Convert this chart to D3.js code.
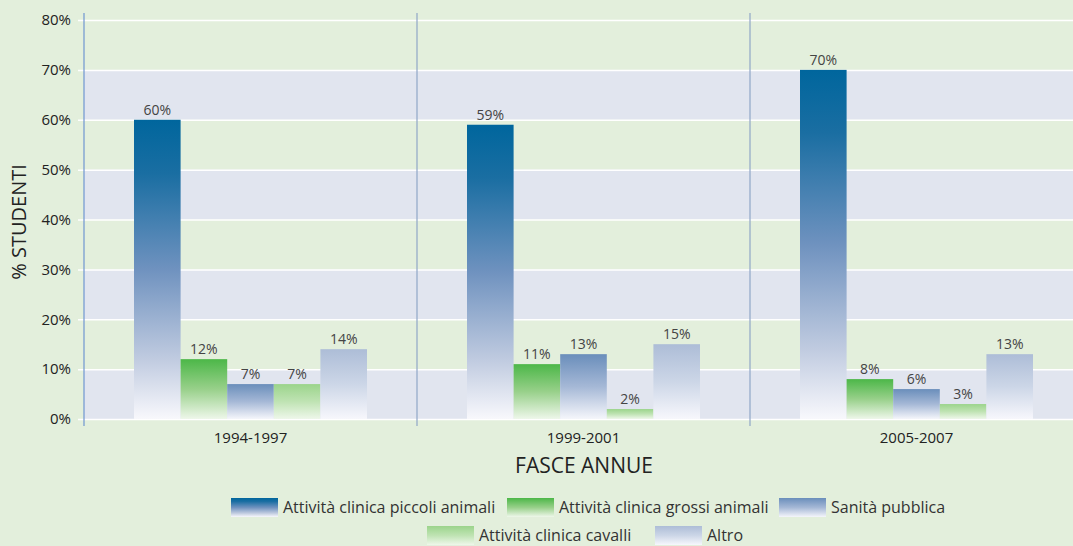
<!DOCTYPE html>
<html><head><meta charset="utf-8">
<script src="https://cdn.jsdelivr.net/npm/d3@7"></script>
<style>html,body{margin:0;padding:0;background:#e3efdc;overflow:hidden}svg{display:block;font-family:"Open Sans",sans-serif}</style>
</head><body><svg id="c" width="1073" height="546"></svg>
<script>
const categories = ["1994-1997", "1999-2001", "2005-2007"];
const seriesNames = ["Attività clinica piccoli animali", "Attività clinica grossi animali", "Sanità pubblica", "Attività clinica cavalli", "Altro"];
const piccoli = [60, 59, 70];
const grossi = [12, 11, 8];
const sanita = [7, 13, 6];
const cavalli = [7, 2, 3];
const altro = [14, 15, 13];
const yTicks = [0, 10, 20, 30, 40, 50, 60, 70, 80];
const seriesValues = [piccoli, grossi, sanita, cavalli, altro];

const gradStops = [
  [["0", "#00669d"], ["0.18", "#1a6ea2"], ["0.5", "#6f92bf"], ["0.8", "#c0cbe0"], ["1", "#f8f8fc"]],
  [["0", "#4cb748"], ["0.5", "#98d08a"], ["1", "#eef7ea"]],
  [["0", "#6a8ebb"], ["0.5", "#a5b8d6"], ["1", "#f5f6fb"]],
  [["0", "#9bd48b"], ["0.5", "#bfe3b3"], ["1", "#eef7ea"]],
  [["0", "#adbdd7"], ["0.5", "#ccd6e7"], ["1", "#f7f7fc"]]
];

const svg = d3.select("#c");
const defs = svg.append("defs");
gradStops.forEach((st, i) => {
  const g = defs.append("linearGradient").attr("id", "g" + i).attr("x1", 0).attr("y1", 0).attr("x2", 0).attr("y2", 1);
  st.forEach(s => g.append("stop").attr("offset", s[0]).attr("stop-color", s[1]));
});

const pL = 84, pR = 1083, pT = 20, pB = 419;
const x0 = d3.scaleBand().domain(categories).range([pL, pR]).padding(0);
const x1 = d3.scaleBand().domain(d3.range(seriesNames.length)).range([50, 283]).padding(0);
const y = d3.scaleLinear().domain([0, 80]).range([pB, pT]);

// bands
for (let i = 0; i < yTicks.length - 1; i++) {
  if (i % 2 === 0) {
    svg.append("rect").attr("x", pL).attr("y", y(yTicks[i + 1])).attr("width", pR - pL)
      .attr("height", y(yTicks[i]) - y(yTicks[i + 1])).attr("fill", "#e1e5ef");
  }
}
// gridlines
svg.append("g").attr("transform", `translate(${pL},0)`)
  .call(d3.axisLeft(y).tickValues(yTicks).tickSize(-(pR - pL)).tickFormat(""))
  .call(g => g.select(".domain").remove())
  .call(g => g.selectAll("line").attr("stroke", "#ffffff").attr("stroke-width", 1.5).attr("x1", -6));
// y labels
svg.append("g").selectAll("text").data(yTicks).join("text")
  .attr("x", 71).attr("y", d => y(d)).attr("dy", "0.35em").attr("text-anchor", "end")
  .attr("font-size", 15).attr("fill", "#222").text(d => d + "%");

// separators
svg.append("line").attr("x1", pL).attr("x2", pL).attr("y1", 13).attr("y2", 426).attr("stroke", "#6f95d0").attr("stroke-width", 1.2);
categories.slice(1).forEach(c => {
  svg.append("line").attr("x1", x0(c)).attr("x2", x0(c)).attr("y1", 13).attr("y2", 426).attr("stroke", "#8fa6c6").attr("stroke-width", 1.2);
});

// bars
categories.forEach((c, ci) => {
  seriesValues.forEach((vals, si) => {
    const v = vals[ci];
    const bx = x0(c) + x1(si);
    svg.append("rect").attr("x", bx).attr("y", y(v)).attr("width", x1.bandwidth()).attr("height", y(0) - y(v))
      .attr("fill", `url(#g${si})`);
    svg.append("text").attr("x", bx + x1.bandwidth() / 2).attr("y", y(v) - 5).attr("text-anchor", "middle")
      .attr("font-size", 14).attr("fill", "#444").text(v + "%");
  });
  svg.append("text").attr("x", x0(c) + x0.bandwidth() / 2).attr("y", 443).attr("text-anchor", "middle")
    .attr("font-size", 15).attr("fill", "#222").text(c);
});

svg.append("text").attr("x", 584).attr("y", 473).attr("text-anchor", "middle").attr("font-size", 21).attr("fill", "#222").text("FASCE ANNUE");
svg.append("text").attr("transform", "translate(26,222) rotate(-90)").attr("text-anchor", "middle").attr("font-size", 20).attr("fill", "#222").text("% STUDENTI");

// legend
const legendPos = [[231, 498], [507, 498], [779, 498], [427, 526], [655, 526]];
seriesNames.forEach((n, i) => {
  const [lx, ly] = legendPos[i];
  svg.append("rect").attr("x", lx).attr("y", ly).attr("width", 47).attr("height", 19).attr("fill", `url(#g${i})`);
  svg.append("text").attr("x", lx + 52).attr("y", ly + 9).attr("dy", "0.35em").attr("font-size", 16).attr("fill", "#333").text(n);
});
</script></body></html>
